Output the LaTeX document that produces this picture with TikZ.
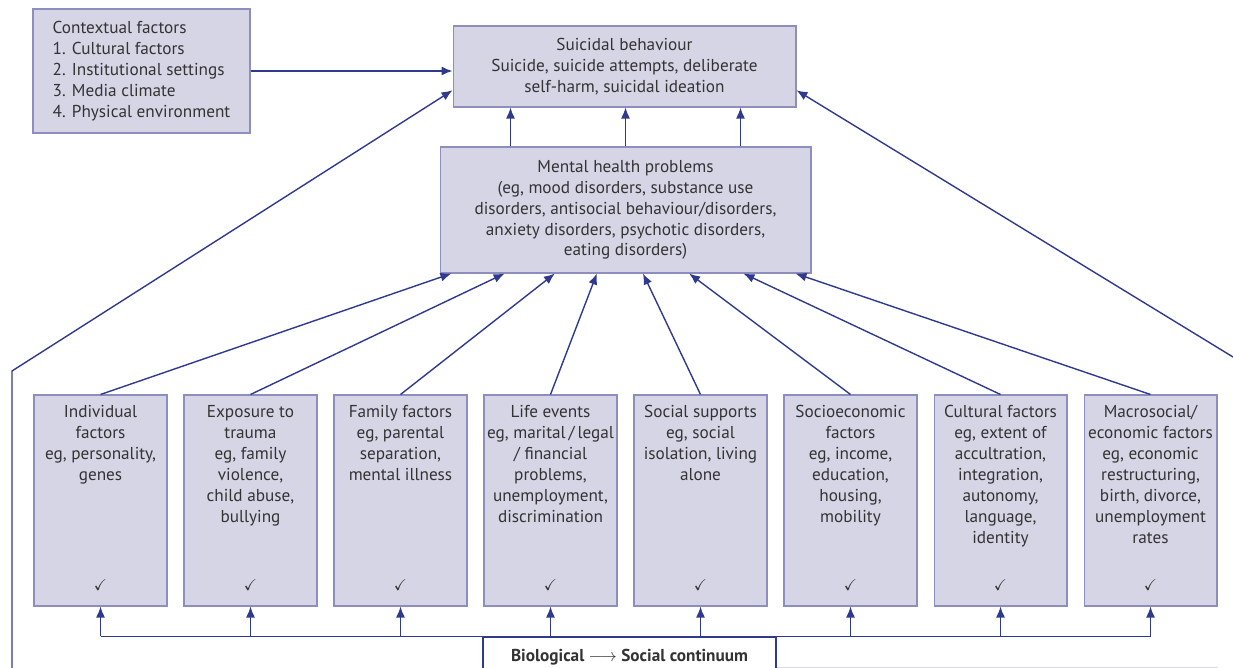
\documentclass[tikz,border=0pt]{standalone}
\usepackage{amsmath,amssymb}
\usepackage{fontspec}
\setmainfont{PT Sans}
\usetikzlibrary{arrows.meta,calc}
\definecolor{boxfill}{HTML}{D5D5E6}
\definecolor{boxline}{HTML}{8E8EBE}
\definecolor{arrowblue}{HTML}{2F3A8F}
\definecolor{txtgray}{HTML}{333333}

\begin{document}
\begin{tikzpicture}[x=0.02cm,y=-0.02cm,font=\fontsize{9.8}{11.9}\selectfont,
    box/.style={draw=boxline,fill=boxfill,line width=0.6pt,text=txtgray,align=center,inner sep=0pt},
    boxtext/.style={anchor=north,text=txtgray,align=center},
    link/.style={draw=arrowblue,line width=0.8pt},
    >={Latex[length=2.2mm,width=1.8mm]}]
  \useasboundingbox (0,0) rectangle (1233,668);

  % top row
  \node[box,align=left,minimum width=4.34cm,minimum height=2.48cm] (context) at (141.5,71)
    {Contextual factors\\1. Cultural factors\\2. Institutional settings\\3. Media climate\\4. Physical environment};
  \node[box,minimum width=6.86cm,minimum height=1.62cm] (suicidal) at (624.5,66.5)
    {Suicidal behaviour\\Suicide, suicide attempts, deliberate\\self-harm, suicidal ideation};
  \node[box,minimum width=7.42cm,minimum height=2.52cm] (mental) at (625.5,210)
    {Mental health problems\\(eg, mood disorders, substance use\\disorders, antisocial behaviour/disorders,\\anxiety disorders, psychotic disorders,\\eating disorders)};

  % risk factor boxes
  \foreach \i/\txt [evaluate=\i as \xc using {100.5+150*(\i-1)}] in {
      1/{Individual\\factors\\eg, personality,\\genes},
      2/{Exposure to\\trauma\\eg, family\\violence,\\child abuse,\\bullying},
      3/{Family factors\\eg, parental\\separation,\\mental illness},
      4/{Life events\\eg, marital\,/\,legal\\/ financial\\problems,\\unemployment,\\discrimination},
      5/{Social supports\\eg, social\\isolation, living\\alone},
      6/{Socioeconomic\\factors\\eg, income,\\education,\\housing,\\mobility},
      7/{Cultural factors\\eg, extent of\\accultration,\\integration,\\autonomy,\\language,\\identity},
      8/{Macrosocial/\\economic factors\\eg, economic\\restructuring,\\birth, divorce,\\unemployment\\rates}} {
    \node[box,minimum width=2.66cm,minimum height=4.22cm] (b\i) at (\xc,500.5) {};
    \node[boxtext] at ([yshift=-0.1cm]b\i.north) {\txt};
    \node[text=txtgray] at ([yshift=0.42cm]b\i.south) {\small$\checkmark$};
  }

  \node[draw=arrowblue,line width=0.8pt,fill=white,minimum width=5.86cm,minimum height=0.8cm,
    text=txtgray,font=\fontsize{9.8}{11.9}\selectfont\bfseries] (cont) at (629.5,657)
    {Biological $\longrightarrow$ Social continuum};

  % feedback lines, cut by the page edge
  \coordinate (lb) at (12,668);
  \coordinate (lk) at (12,371);
  \coordinate (re) at (1233,357);
  \coordinate (rb) at (1218,667);
  \draw[boxline!35,line width=0.5pt] (lb) -- (cont.west |- lb);
  \draw[boxline!35,line width=0.5pt] (cont.east |- rb) -- (rb);

  % connectors
  \draw[link,->] (context) -- (context -| suicidal.west);
  \draw[link,->] (lb) -- (lk) -- ($(suicidal.north west)!0.79!(suicidal.south west)$);
  \draw[link,->] (re) -- ($(suicidal.north east)!0.79!(suicidal.south east)$);
  \foreach \dx in {-115,0,115}
    \draw[link,->] ([xshift=\dx*0.02cm]mental.north) -- ([xshift=\dx*0.02cm]mental.north |- suicidal.south);
  \foreach \i/\f in {1/0.032,2/0.175,3/0.31,4/0.423,5/0.547,6/0.671,7/0.817,8/0.957}
    \draw[link,->] (b\i.north) -- ($(mental.south west)!\f!(mental.south east)$);
  \draw[link] (b1.south |- cont.north) -- (b8.south |- cont.north);
  \foreach \i in {1,...,8}
    \draw[link,->] (b\i.south |- cont.north) -- (b\i.south);
\end{tikzpicture}
\end{document}
